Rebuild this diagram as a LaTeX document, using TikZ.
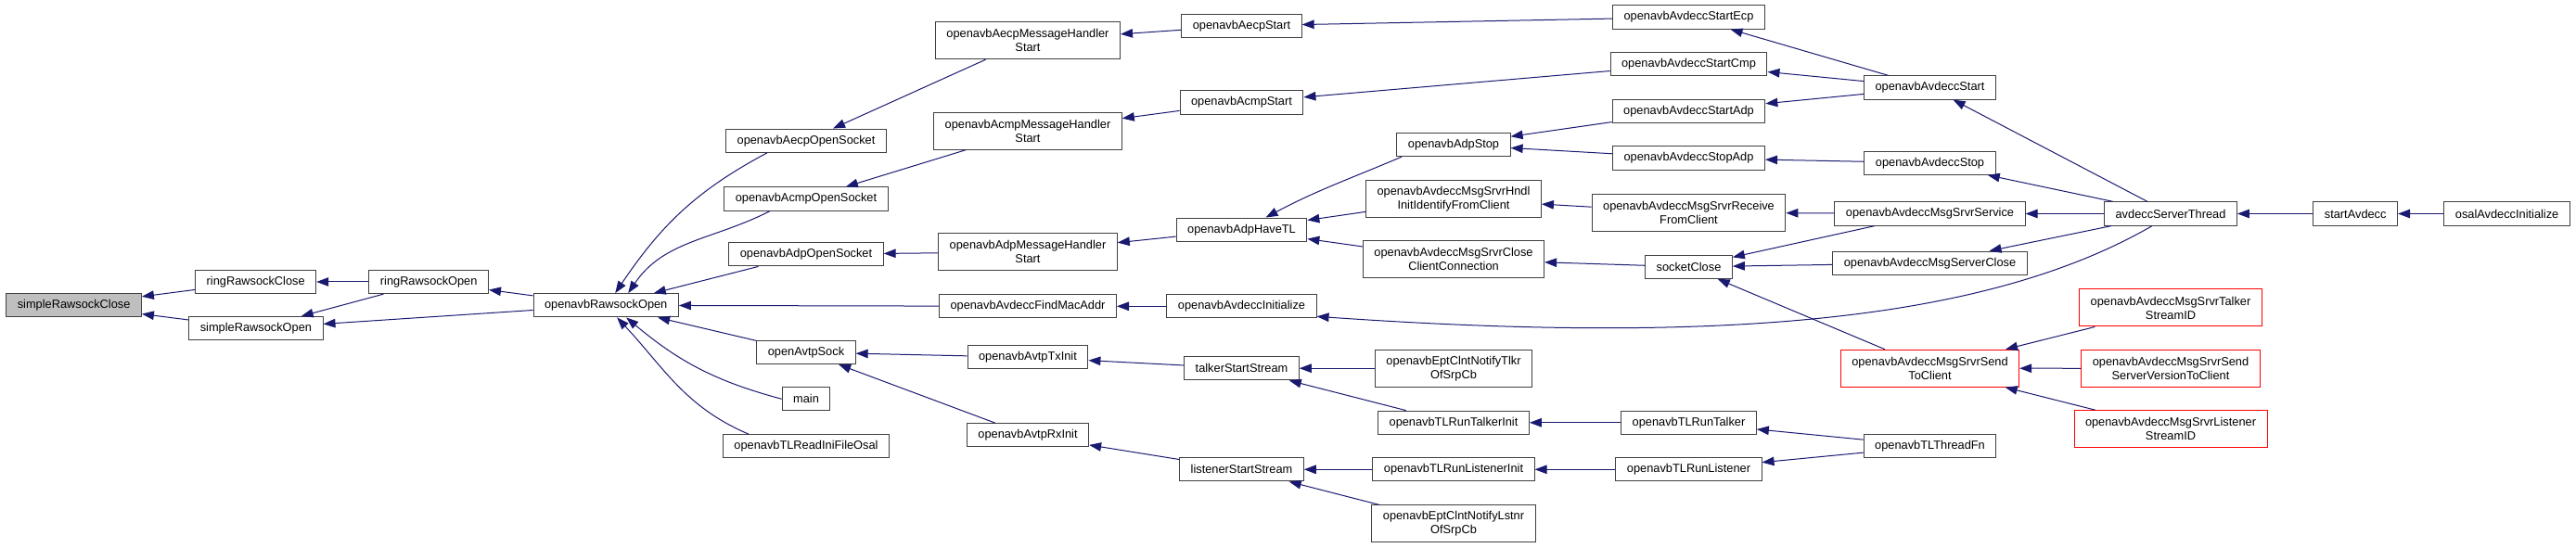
\documentclass[tikz,border=0pt]{standalone}
\usepackage{fontspec}
\setmainfont{Liberation Sans}
\usepackage{tikz}
\usetikzlibrary{arrows.meta,positioning,calc}
\definecolor{callblue}{HTML}{191970}
\definecolor{boxline}{HTML}{404040}

\begin{document}
\begin{tikzpicture}[
    x=10pt, y=10pt,
    font=\fontsize{12.8pt}{15pt}\selectfont, >={Triangle[length=13pt, width=9.5pt]},
    fn/.style={rectangle, draw=boxline, line width=1pt, fill=white, minimum height=25.3pt, inner xsep=12pt, inner ysep=2pt},
    fn2/.style={fn, align=center, minimum height=40pt},
    cut/.style={draw=red},
    call/.style={->, callblue, line width=1pt}
]
    \useasboundingbox (0,0) rectangle (277.7,59.1);
    % left part of the graph
    \node[fn, fill=gray!50] (srClose) at (7.96,26.17) {simpleRawsockClose};
    \node[fn] (ringClose) at (27.57,28.70) {ringRawsockClose};
    \node[fn] (srOpen) at (27.59,23.68) {simpleRawsockOpen};
    \node[fn] (ringOpen) at (46.22,28.70) {ringRawsockOpen};
    \node[fn] (rawOpen) at (65.32,26.17) {openavbRawsockOpen};
    \node[fn] (aecpSock) at (86.9,43.93) {openavbAecpOpenSocket};
    \node[fn] (acmpSock) at (86.9,37.65) {openavbAcmpOpenSocket};
    \node[fn] (adpSock) at (86.9,31.67) {openavbAdpOpenSocket};
    \node[fn] (avtpSock) at (86.9,21.10) {openAvtpSock};
    \node[fn] (mainFn) at (86.9,16.07) {main};
    \node[fn] (iniOsal) at (86.9,10.97) {openavbTLReadIniFileOsal};
    \node[fn2] (aecpHandler) at (110.8,54.73) {openavbAecpMessageHandler\\Start};
    \node[fn2] (acmpHandler) at (110.8,44.98) {openavbAcmpMessageHandler\\Start};
    \node[fn2] (adpHandler) at (110.8,31.92) {openavbAdpMessageHandler\\Start};
    \node[fn] (findMac) at (110.8,26.07) {openavbAvdeccFindMacAddr};
    \node[fn] (txInit) at (110.8,20.57) {openavbAvtpTxInit};
    \node[fn] (rxInit) at (110.8,12.17) {openavbAvtpRxInit};
    \node[fn] (aecpStart) at (133.85,56.32) {openavbAecpStart};
    \node[fn] (acmpStart) at (133.85,48.05) {openavbAcmpStart};
    \node[fn] (adpHaveTL) at (133.85,34.33) {openavbAdpHaveTL};
    \node[fn] (avdInit) at (133.85,26.07) {openavbAvdeccInitialize};
    \node[fn] (talkerStart) at (133.85,19.38) {talkerStartStream};
    \node[fn] (listenerStart) at (133.85,8.47) {listenerStartStream};
    % middle part
    \node[fn] (adpStop) at (156.7,43.50) {openavbAdpStop};
    \node[fn2] (hndlIdentify) at (156.7,37.63) {openavbAvdeccMsgSrvrHndl\\InitIdentifyFromClient};
    \node[fn2] (closeClient) at (156.7,31.13) {openavbAvdeccMsgSrvrClose\\ClientConnection};
    \node[fn2] (notifyTlkr) at (156.7,19.38) {openavbEptClntNotifyTlkr\\OfSrpCb};
    \node[fn] (talkerInit) at (156.7,13.52) {openavbTLRunTalkerInit};
    \node[fn] (listenerInit) at (156.7,8.47) {openavbTLRunListenerInit};
    \node[fn2] (notifyLstnr) at (156.7,2.60) {openavbEptClntNotifyLstnr\\OfSrpCb};
    \node[fn] (startEcp) at (182.05,57.25) {openavbAvdeccStartEcp};
    \node[fn] (startCmp) at (182.05,52.17) {openavbAvdeccStartCmp};
    \node[fn] (startAdp) at (182.05,47.12) {openavbAvdeccStartAdp};
    \node[fn] (stopAdp) at (182.05,42.05) {openavbAvdeccStopAdp};
    \node[fn2] (receiveClient) at (182.05,36.18) {openavbAvdeccMsgSrvrReceive\\FromClient};
    \node[fn] (sockClose) at (182.05,30.32) {socketClose};
    \node[fn] (runTalker) at (182.05,13.52) {openavbTLRunTalker};
    \node[fn] (runListener) at (182.05,8.47) {openavbTLRunListener};
    % right part
    \node[fn] (avdStart) at (208.05,49.65) {openavbAvdeccStart};
    \node[fn] (avdStop) at (208.05,41.53) {openavbAvdeccStop};
    \node[fn] (srvService) at (208.05,36.05) {openavbAvdeccMsgSrvrService};
    \node[fn] (srvClose) at (208.05,30.72) {openavbAvdeccMsgServerClose};
    \node[fn2, cut] (sendClient) at (208.05,19.38) {openavbAvdeccMsgSrvrSend\\ToClient};
    \node[fn] (threadFn) at (208.05,10.98) {openavbTLThreadFn};
    \node[fn] (serverThread) at (234.0,36.05) {avdeccServerThread};
    \node[fn2, cut] (talkerID) at (234.0,25.90) {openavbAvdeccMsgSrvrTalker\\StreamID};
    \node[fn2, cut] (versionClient) at (234.0,19.37) {openavbAvdeccMsgSrvrSend\\ServerVersionToClient};
    \node[fn2, cut] (listenerID) at (234.0,12.83) {openavbAvdeccMsgSrvrListener\\StreamID};
    \node[fn] (startAvd) at (253.92,36.05) {startAvdecc};
    \node[fn] (osalInit) at (270.26,36.05) {osalAvdeccInitialize};
    % calls
    \draw[call] (ringClose) -- (srClose);
    \draw[call] (srOpen) -- (srClose);
    \draw[call] (ringOpen) -- (ringClose);
    \draw[call] (ringOpen) -- (srOpen);
    \draw[call] (rawOpen) -- (ringOpen);
    \draw[call] (rawOpen) -- (srOpen);
    \draw[call] ([xshift=-42pt]aecpSock.south) to[out=208, in=56] ([xshift=10pt]rawOpen.north);
    \draw[call] ([xshift=-39pt]acmpSock.south) to[out=207, in=56] ([xshift=24pt]rawOpen.north);
    \draw[call] (adpSock) -- (rawOpen);
    \draw[call] (findMac) -- (rawOpen);
    \draw[call] (avtpSock) -- (rawOpen);
    \draw[call] (mainFn.west) to[out=165, in=-40] ([xshift=22pt]rawOpen.south);
    \draw[call] ([xshift=-62pt]iniOsal.north) to[out=157, in=-47] ([xshift=12pt]rawOpen.south);
    \draw[call] (aecpHandler) -- (aecpSock);
    \draw[call] (acmpHandler) -- (acmpSock);
    \draw[call] (adpHandler) -- (adpSock);
    \draw[call] (txInit) -- (avtpSock);
    \draw[call] (rxInit) -- (avtpSock);
    \draw[call] (aecpStart) -- (aecpHandler);
    \draw[call] (acmpStart) -- (acmpHandler);
    \draw[call] (adpHaveTL) -- (adpHandler);
    \draw[call] (avdInit) -- (findMac);
    \draw[call] (talkerStart) -- (txInit);
    \draw[call] (listenerStart) -- (rxInit);
    \draw[call] (startEcp) -- (aecpStart);
    \draw[call] (startCmp) -- (acmpStart);
    \draw[call] ([xshift=-56pt]adpStop.south) to[out=203, in=28] ([xshift=26pt]adpHaveTL.north);
    \draw[call] (hndlIdentify) -- (adpHaveTL);
    \draw[call] (closeClient) -- (adpHaveTL);
    \draw[call] ([xshift=-20pt]serverThread.south) to[out=210, in=-4, out distance=200pt, in distance=450pt] ([yshift=-11pt]avdInit.east);
    \draw[call] (notifyTlkr) -- (talkerStart);
    \draw[call] (talkerInit) -- (talkerStart);
    \draw[call] (listenerInit) -- (listenerStart);
    \draw[call] (notifyLstnr) -- (listenerStart);
    \draw[call] (startAdp) -- (adpStop);
    \draw[call] (stopAdp) -- (adpStop);
    \draw[call] (receiveClient) -- (hndlIdentify);
    \draw[call] (sockClose) -- (closeClient);
    \draw[call] (runTalker) -- (talkerInit);
    \draw[call] (runListener) -- (listenerInit);
    \draw[call] (avdStart) -- (startEcp);
    \draw[call] (avdStart) -- (startCmp);
    \draw[call] (avdStart) -- (startAdp);
    \draw[call] (avdStop) -- (stopAdp);
    \draw[call] (srvService) -- (receiveClient);
    \draw[call] (srvService) -- (sockClose);
    \draw[call] (srvClose) -- (sockClose);
    \draw[call] (sendClient) -- (sockClose);
    \draw[call] (threadFn) -- (runTalker);
    \draw[call] (threadFn) -- (runListener);
    \draw[call] (serverThread) -- (avdStart);
    \draw[call] (serverThread) -- (avdStop);
    \draw[call] (serverThread) -- (srvService);
    \draw[call] (serverThread) -- (srvClose);
    \draw[call] (talkerID) -- (sendClient);
    \draw[call] (versionClient) -- (sendClient);
    \draw[call] (listenerID) -- (sendClient);
    \draw[call] (startAvd) -- (serverThread);
    \draw[call] (osalInit) -- (startAvd);
\end{tikzpicture}
\end{document}
